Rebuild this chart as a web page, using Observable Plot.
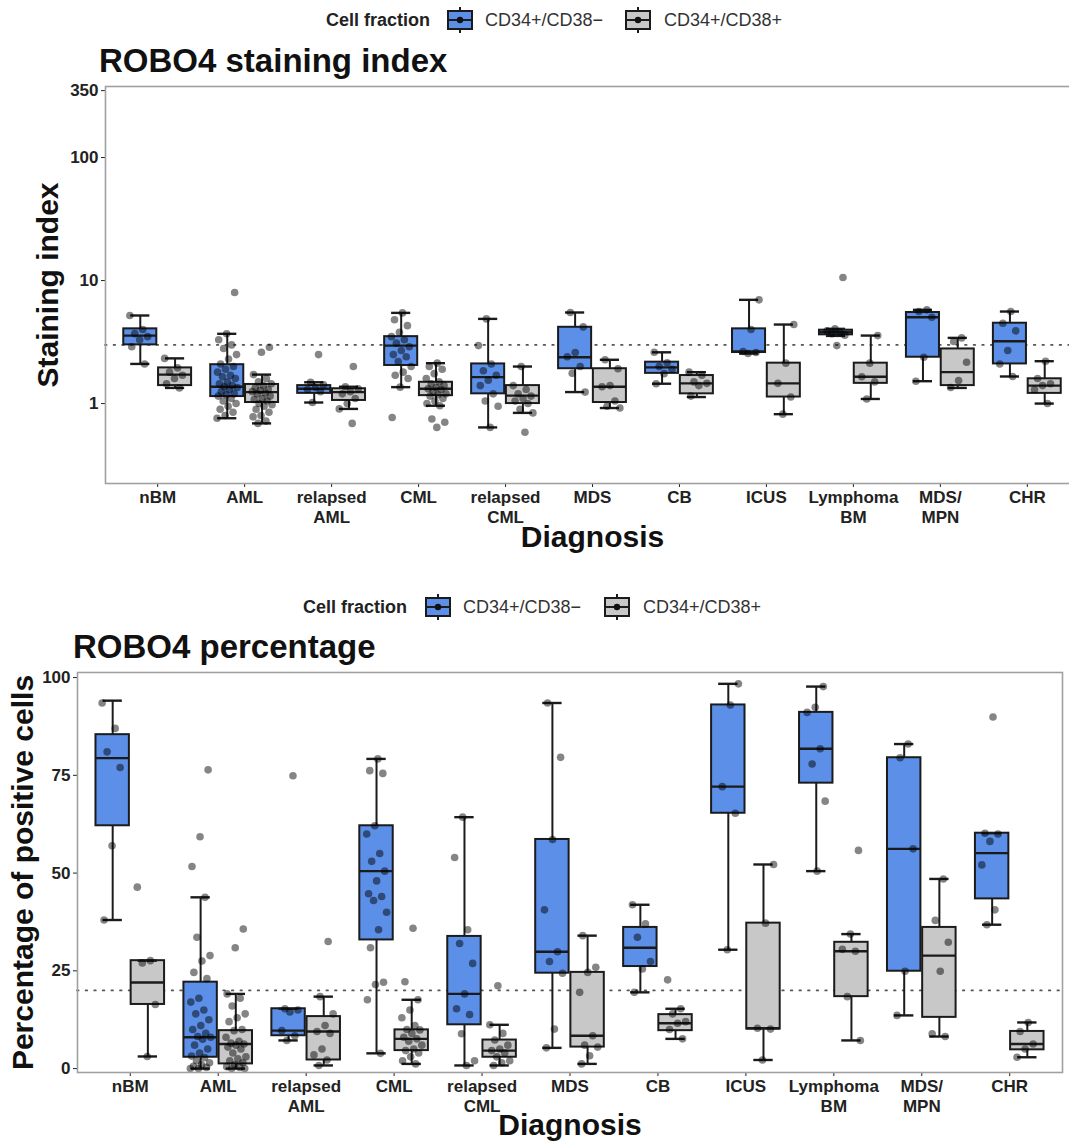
<!DOCTYPE html>
<html><head><meta charset="utf-8">
<script src="https://cdn.jsdelivr.net/npm/d3@7"></script>
<script src="https://cdn.jsdelivr.net/npm/@observablehq/plot@0.6"></script>
<style>
html,body{margin:0;padding:0;background:#fff;}
body{width:1069px;height:1144px;overflow:hidden;position:relative;font-family:"Liberation Sans",Arial,sans-serif;}
.abs{position:absolute;white-space:nowrap;line-height:1;}
.title{font-weight:bold;font-size:33px;color:#111;z-index:2;}
.legtitle{font-weight:bold;font-size:18px;color:#222;}
.legtext{font-size:18px;color:#333;}
svg{max-width:none !important;}
</style></head><body>
<div id="root"></div>
<script>
// ---------- categories ----------
const diagnoses = ["nBM","AML","relapsed\nAML","CML","relapsed\nCML","MDS","CB","ICUS","Lymphoma\nBM","MDS/\nMPN","CHR"];
const fractions = ["CD34+/CD38\u2212","CD34+/CD38+"];
const fractionColors = ["#5b8fe8","#c8c8c8"];
const legendTitle = "Cell fraction";

// ---------- panel 1: staining index (log) ----------
const siTitle = "ROBO4 staining index";
const siYLabel = "Staining index";
const siTicks = [1, 10, 100, 350];
const siRef = 3;
const siNegLo  = [2.1, 0.76, 1.02, 1.36, 0.64, 1.24, 1.45, 2.55, 3.55, 1.52, 1.66];
const siNegQ1  = [3.0, 1.14, 1.21, 2.04, 1.20, 1.92, 1.76, 2.60, 3.62, 2.38, 2.10];
const siNegMed = [3.57, 1.37, 1.32, 2.96, 1.64, 2.38, 1.97, 2.65, 3.80, 5.03, 3.21];
const siNegQ3  = [4.05, 2.07, 1.40, 3.50, 2.10, 4.17, 2.17, 4.05, 3.95, 5.50, 4.50];
const siNegHi  = [5.2, 3.69, 1.49, 5.46, 4.88, 5.50, 2.61, 6.97, 4.05, 5.78, 5.60];
const siPosLo  = [1.34, 0.69, 0.905, 0.96, 0.84, 0.92, 1.13, 0.82, 1.09, 1.34, 1.00];
const siPosQ1  = [1.40, 1.02, 1.06, 1.16, 1.00, 1.02, 1.20, 1.13, 1.46, 1.40, 1.21];
const siPosMed = [1.72, 1.24, 1.24, 1.32, 1.16, 1.37, 1.46, 1.46, 1.65, 1.80, 1.40];
const siPosQ3  = [1.95, 1.43, 1.32, 1.49, 1.40, 1.92, 1.69, 2.13, 2.13, 2.78, 1.59];
const siPosHi  = [2.33, 1.72, 1.37, 2.13, 2.00, 2.27, 1.80, 4.39, 3.57, 3.42, 2.21];
const siNegPoints = [
  [5.2, 4.0, 3.7, 3.5, 3.3, 2.9, 2.1],
  [8.0, 3.69, 3.3, 3.0, 2.8, 2.5, 2.3, 2.1, 2.0, 1.9, 1.8, 1.7, 1.65, 1.6, 1.5, 1.45, 1.4, 1.37, 1.35, 1.3, 1.25, 1.2, 1.18, 1.15, 1.1, 1.05, 1.0, 0.95, 0.9, 0.85, 0.8, 0.76],
  [2.5, 1.49, 1.42, 1.35, 1.3, 1.25, 1.02],
  [5.46, 4.8, 4.3, 3.8, 3.5, 3.3, 3.1, 2.9, 2.7, 2.5, 2.4, 2.2, 2.0, 1.8, 1.7, 1.6, 1.36, 0.77],
  [4.88, 2.96, 2.1, 1.85, 1.7, 1.55, 1.4, 1.2, 1.05, 0.95, 0.64],
  [5.5, 4.2, 2.6, 2.4, 2.0, 1.76, 1.24],
  [2.61, 2.15, 2.0, 1.9, 1.75, 1.45],
  [6.97, 4.0, 2.65, 2.6, 2.55],
  [10.6, 4.05, 3.9, 3.8, 3.7, 3.6, 2.96],
  [5.78, 5.6, 5.03, 2.38, 1.52],
  [5.6, 4.5, 3.9, 2.7, 2.1, 1.66]
];
const siPosPoints = [
  [2.33, 1.95, 1.8, 1.7, 1.6, 1.45, 1.34],
  [2.87, 2.61, 1.72, 1.6, 1.5, 1.45, 1.4, 1.35, 1.3, 1.28, 1.25, 1.22, 1.2, 1.15, 1.1, 1.08, 1.05, 1.0, 0.98, 0.95, 0.9, 0.85, 0.8, 0.78, 0.72, 0.69],
  [2.0, 1.37, 1.32, 1.25, 1.2, 1.1, 1.0, 0.905, 0.69],
  [2.13, 2.0, 1.9, 1.75, 1.6, 1.5, 1.45, 1.4, 1.35, 1.32, 1.3, 1.25, 1.2, 1.18, 1.15, 1.1, 1.05, 1.0, 0.96, 0.75, 0.705, 0.64],
  [2.0, 1.4, 1.3, 1.2, 1.15, 1.1, 1.05, 1.0, 0.9, 0.84, 0.585],
  [2.27, 1.92, 1.4, 1.37, 1.05, 0.95, 0.92],
  [1.80, 1.7, 1.5, 1.46, 1.4, 1.15],
  [4.39, 2.13, 1.46, 1.13, 0.82],
  [3.57, 2.13, 1.65, 1.5, 1.09],
  [3.42, 3.2, 2.17, 1.54, 1.35],
  [2.21, 1.6, 1.45, 1.4, 1.3, 1.0]
];

// ---------- panel 2: percentage ----------
const pcTitle = "ROBO4 percentage";
const pcYLabel = "Percentage of positive cells";
const pcTicks = [0, 25, 50, 75, 100];
const pcRef = 20;
const pcNegLo  = [38.0, 0, 7.2, 3.9, 0.8, 5.3, 19.5, 30.4, 50.5, 13.6, 36.8];
const pcNegQ1  = [62.1, 2.9, 8.4, 32.9, 11.2, 24.4, 26.1, 65.3, 73.0, 24.9, 43.4];
const pcNegMed = [79.4, 8.0, 9.7, 50.5, 19.1, 29.9, 30.9, 72.1, 81.8, 56.2, 55.1];
const pcNegQ3  = [85.4, 22.1, 15.3, 62.1, 33.8, 58.6, 36.1, 93.0, 91.1, 79.5, 60.2];
const pcNegHi  = [94.1, 43.8, 15.3, 79.2, 64.3, 93.5, 41.9, 98.4, 97.7, 83.0, 60.2];
const pcPosLo  = [3.1, 0, 0.8, 1.2, 0.8, 1.2, 7.6, 2.2, 7.2, 8.2, 2.9];
const pcPosQ1  = [16.4, 1.2, 2.2, 4.6, 2.9, 5.5, 9.7, 10.1, 18.4, 13.1, 4.8];
const pcPosMed = [22.0, 6.3, 9.5, 7.6, 4.6, 8.4, 11.6, 10.3, 30.0, 28.9, 6.3];
const pcPosQ3  = [27.6, 9.7, 13.3, 9.9, 7.3, 24.6, 13.8, 37.2, 32.3, 36.1, 9.5];
const pcPosHi  = [27.6, 19.1, 18.4, 17.6, 11.2, 34.0, 15.3, 52.2, 34.4, 48.5, 11.8];
const pcNegPoints = [
  [93.5, 87, 81, 77, 57, 38],
  [76.4, 59.3, 51.7, 43.8, 33.6, 28.9, 27.5, 24.6, 23, 18, 17, 15, 14, 12.5, 11, 10, 9, 8.2, 8, 7.5, 6, 5, 4, 3.2, 2.8, 2, 1.5, 1, 0.6, 0.3, 0, 0],
  [74.9, 15.3, 15, 14.5, 9.7, 8.4, 7.2],
  [79.2, 76.2, 75.5, 62.1, 60, 55, 53, 50.5, 48, 44.7, 44, 43, 40, 35.5, 30.9, 22.1, 21.5, 17.6, 3.9],
  [64.3, 54, 35.5, 32, 26.9, 19.1, 15.3, 13.8, 8.9, 2, 0.8],
  [93.5, 79.6, 58.6, 40.6, 29.9, 27.4, 24.4, 10.1, 5.3],
  [41.9, 37.0, 33.6, 27.4, 25.5, 19.5],
  [98.4, 93.0, 72.1, 65.3, 30.4],
  [97.7, 92.4, 91.1, 81.8, 77.9, 68.4, 50.5],
  [83.0, 79.5, 56.2, 24.9, 13.6],
  [89.9, 60.2, 60, 58.1, 52.1, 40.6, 36.8]
];
const pcPosPoints = [
  [46.4, 27.6, 27, 16.4, 3.1],
  [35.7, 30.9, 19.1, 18, 16, 14, 13, 12, 10, 9.7, 8, 7, 6.5, 6.3, 6, 5.5, 5, 4, 3, 2.5, 2, 1.5, 1, 0.5, 0.3, 0, 0],
  [32.5, 18.4, 14, 11, 9.5, 9, 5, 3.5, 2.2, 0.8],
  [35.9, 22.2, 17.6, 15, 13, 11, 10, 9.9, 9, 8, 7.6, 7, 6, 5, 4.6, 4, 3, 2, 1.2],
  [21.2, 11.2, 9, 7.3, 6, 5, 4.6, 4, 3, 2, 1.5, 0.8],
  [34.0, 25.9, 24.6, 19.5, 8.4, 6, 5.5, 3.3, 1.2],
  [22.7, 15.3, 14, 12, 11.6, 10, 7.6],
  [52.2, 37.2, 10.3, 10.1, 2.2],
  [55.8, 34.4, 30.5, 30.0, 18.4, 7.2],
  [48.5, 37.9, 32.3, 24.9, 8.9, 8.2],
  [11.8, 9.5, 6.3, 5, 2.9]
];
const xAxisLabel = "Diagnosis";

// ---------- helpers ----------
const dodge = [-0.2, 0.2];
const halfBox = 0.19, capHalf = 0.11, jitterHalf = 0.12;
const jit = j => (((j * 0.618034) % 1) - 0.5) * 2 * jitterHalf;

function boxRows(statsByFraction) {
  const rows = [];
  statsByFraction.forEach((s, f) => {
    diagnoses.forEach((d, i) => rows.push({
      x: i + 1 + dodge[f], f, lo: s[0][i], q1: s[1][i], med: s[2][i], q3: s[3][i], hi: s[4][i]
    }));
  });
  return rows;
}
function pointRows(pointsByFraction) {
  const rows = [];
  pointsByFraction.forEach((pts, f) => {
    pts.forEach((arr, i) => arr.forEach((v, j) => rows.push({x: i + 1 + dodge[f] + jit(j + i * 3), y: v})));
  });
  return rows;
}

function makeChart(cfg) {
  const boxes = boxRows(cfg.stats);
  const pts = pointRows(cfg.points);
  const ink = "#1b1b1b";
  const svg = Plot.plot({
    width: cfg.width, height: cfg.height,
    marginLeft: cfg.ml, marginRight: cfg.mr, marginTop: cfg.mt, marginBottom: cfg.mb,
    style: {fontFamily: "'Liberation Sans', Arial, sans-serif", fontSize: "17px", fontWeight: "bold", color: "#222", background: "transparent", overflow: "visible", maxWidth: "none"},
    x: {domain: [0.4, 11.6], ticks: d3.range(1, 12), tickFormat: () => "", tickSize: 4, label: null},
    y: Object.assign({label: null, tickSize: 4, tickPadding: 3}, cfg.y),
    marks: [
      Plot.ruleY([cfg.ref], {stroke: "#555", strokeWidth: 1.7, strokeDasharray: "1.6,7", strokeLinecap: "round"}),
      Plot.ruleX(boxes, {x: "x", y1: "q3", y2: "hi", stroke: ink, strokeWidth: 2}),
      Plot.ruleX(boxes, {x: "x", y1: "lo", y2: "q1", stroke: ink, strokeWidth: 2}),
      Plot.rect(boxes, {x1: d => d.x - halfBox, x2: d => d.x + halfBox, y1: "q1", y2: "q3",
        fill: d => fractionColors[d.f], stroke: ink, strokeWidth: 2}),
      Plot.ruleY(boxes, {y: "med", x1: d => d.x - halfBox, x2: d => d.x + halfBox, stroke: ink, strokeWidth: 2.4}),
      Plot.ruleY(boxes, {y: "hi", x1: d => d.x - capHalf, x2: d => d.x + capHalf, stroke: ink, strokeWidth: 2.4}),
      Plot.ruleY(boxes, {y: "lo", x1: d => d.x - capHalf, x2: d => d.x + capHalf, stroke: ink, strokeWidth: 2.4}),
      Plot.dot(pts, {x: "x", y: "y", r: 3.8, fill: "black", fillOpacity: 0.48, stroke: "none"}),
      Plot.frame({stroke: "#a0a0a0", strokeWidth: 1.6}),
      Plot.text(diagnoses, {x: (d, i) => i + 1, text: d => d, frameAnchor: "bottom", lineAnchor: "top",
        dy: 5, fontSize: 17, fontWeight: "bold", lineHeight: 1.2, fill: "#222"}),
      Plot.text([xAxisLabel], {text: d => d, frameAnchor: "bottom", lineAnchor: "middle", dy: cfg.xtdy,
        fontSize: 30, fontWeight: "bold", fill: "#111"}),
      Plot.text([cfg.ylabel], {text: d => d, frameAnchor: "left", textAnchor: "middle", lineAnchor: "middle",
        rotate: -90, dx: cfg.ytdx, fontSize: 30, fontWeight: "bold", fill: "#111"})
    ]
  });
  svg.style.maxWidth = "none";
  svg.setAttribute("width", cfg.width);
  svg.setAttribute("height", cfg.height);
  return svg;
}

function swatch(color) {
  const s = d3.create("svg").attr("width", 28).attr("height", 28);
  s.append("line").attr("x1", 14).attr("x2", 14).attr("y1", 1).attr("y2", 27).attr("stroke", "#1b1b1b").attr("stroke-width", 2);
  s.append("rect").attr("x", 2).attr("y", 5).attr("width", 24).attr("height", 18)
    .attr("fill", color).attr("stroke", "#1b1b1b").attr("stroke-width", 2);
  s.append("line").attr("x1", 2).attr("x2", 26).attr("y1", 14).attr("y2", 14).attr("stroke", "#1b1b1b").attr("stroke-width", 2);
  s.append("circle").attr("cx", 14).attr("cy", 14).attr("r", 3.2).attr("fill", "#111");
  return s.node();
}

function addLegend(root, top, pos) {
  const t = document.createElement("div");
  t.className = "abs legtitle"; t.style.left = pos[0] + "px"; t.style.top = (top + 4.5) + "px";
  t.textContent = legendTitle; root.appendChild(t);
  fractions.forEach((f, k) => {
    const sw = document.createElement("div");
    sw.className = "abs"; sw.style.left = pos[1 + 2 * k] + "px"; sw.style.top = (top) + "px";
    sw.appendChild(swatch(fractionColors[k])); root.appendChild(sw);
    const lab = document.createElement("div");
    lab.className = "abs legtext"; lab.style.left = pos[2 + 2 * k] + "px"; lab.style.top = (top + 4.5) + "px";
    lab.textContent = f; root.appendChild(lab);
  });
}
function addTitle(root, text, left, top) {
  const t = document.createElement("div");
  t.className = "abs title"; t.style.left = left + "px"; t.style.top = top + "px";
  t.textContent = text; root.appendChild(t);
}
function addChart(root, svg, top) {
  const w = document.createElement("div");
  w.className = "abs"; w.style.left = "0px"; w.style.top = top + "px";
  w.appendChild(svg); root.appendChild(w);
}

const root = document.getElementById("root");

// panel 1
addChart(root, makeChart({
  width: 1085, height: 478, ml: 105, mr: 6, mt: 6, mb: 75,
  y: {type: "log", domain: [0.224, 378], ticks: siTicks, tickFormat: d => String(d)},
  ref: siRef, ylabel: siYLabel, ytdx: -57, xtdy: 54,
  stats: [[siNegLo, siNegQ1, siNegMed, siNegQ3, siNegHi], [siPosLo, siPosQ1, siPosMed, siPosQ3, siPosHi]],
  points: [siNegPoints, siPosPoints]
}), 80);
addLegend(root, 6, [326, 446, 485, 624, 664]);
addTitle(root, siTitle, 99, 44);

// panel 2
addChart(root, makeChart({
  width: 1069, height: 484, ml: 77, mr: 7, mt: 12, mb: 72,
  y: {domain: [-1, 101.3], ticks: pcTicks, tickFormat: d => String(d)},
  ref: pcRef, ylabel: pcYLabel, ytdx: -54, xtdy: 53,
  stats: [[pcNegLo, pcNegQ1, pcNegMed, pcNegQ3, pcNegHi], [pcPosLo, pcPosQ1, pcPosMed, pcPosQ3, pcPosHi]],
  points: [pcNegPoints, pcPosPoints]
}), 660);
addLegend(root, 593, [303, 424, 463, 603, 643]);
addTitle(root, pcTitle, 73, 630);
</script></body></html>
